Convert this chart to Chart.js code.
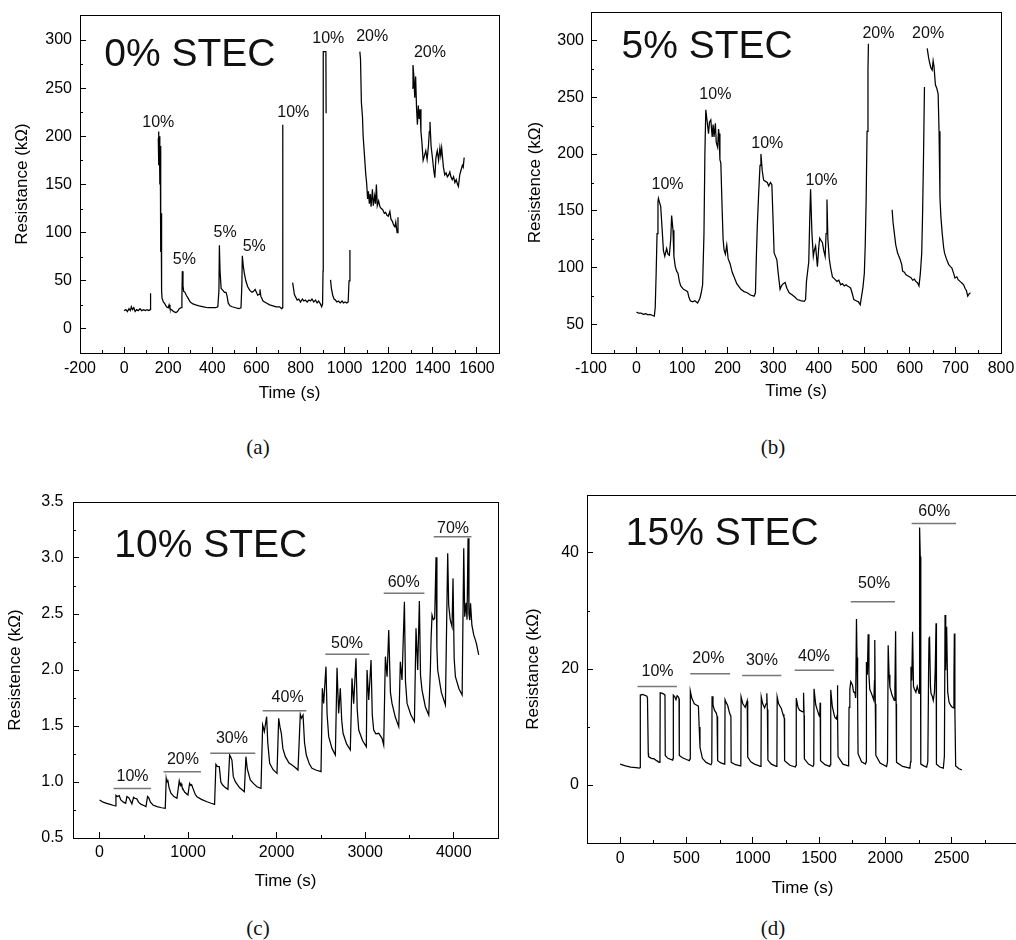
<!DOCTYPE html>
<html>
<head>
<meta charset="utf-8">
<script src="https://cdn.jsdelivr.net/npm/chart.js@4.4.1/dist/chart.umd.min.js"></script>
<style>
  body { margin: 0; width: 1016px; height: 940px; overflow: hidden; background: #fff; position: relative; }
  canvas { position: absolute; }
  .cap { position: absolute; font-family: "Liberation Serif", "DejaVu Serif", serif; font-size: 21px; color: #111; transform: translate(-50%, -50%); }
</style>
</head>
<body>
<canvas id="chartA" width="508" height="420" style="left:0;top:0"></canvas>
<canvas id="chartB" width="508" height="420" style="left:508px;top:0"></canvas>
<canvas id="chartC" width="508" height="440" style="left:0;top:470px"></canvas>
<canvas id="chartD" width="520" height="440" style="left:508px;top:470px"></canvas>
<div class="cap" style="left:258px;top:447px">(a)</div>
<div class="cap" style="left:773px;top:447px">(b)</div>
<div class="cap" style="left:258px;top:928px">(c)</div>
<div class="cap" style="left:773px;top:928px">(d)</div>
<script>
// ---- (a) 0% STEC ----
const aTime = [0, 8, 15, 22, 28, 33, 38, 44, 50, 57, 64, 72, 80, 88, 96, 104, 112, 118, 120, 130,
  155, 156, 158, 160, 162, 164, 166, 168, 170, 172, 178, 185, 192, 200, 204, 208, 215, 225, 235, 242,
  250, 258, 262, 264, 267, 270, 276, 282, 290, 300, 312, 325, 340, 360, 380, 400, 415, 425, 430, 432,
  435, 440, 448, 455, 462, 467, 472, 480, 490, 505, 520, 530, 534, 536, 540, 545, 552, 560, 570, 580,
  587, 594, 600, 606, 612, 616, 620, 630, 645, 660, 675, 690, 705, 715, 718, 719, 720, 740,
  764, 767, 772, 778, 785, 792, 800, 808, 815, 822, 830, 838, 845, 852, 860, 868, 875, 882, 890, 896,
  900, 902, 903, 915, 916, 925,
  936, 940, 946, 952, 958, 965, 972, 980, 988, 995, 1002, 1010, 1016, 1020, 1024, 1040,
  1069, 1072, 1076, 1081, 1084, 1090, 1096, 1100, 1104, 1108, 1112, 1116, 1120, 1126, 1130, 1136, 1140, 1144, 1148, 1154,
  1160, 1166, 1172, 1180, 1186, 1192, 1198, 1205, 1210, 1216, 1222, 1228, 1232, 1238, 1242, 1270,
  1306, 1310, 1314, 1318, 1322, 1326, 1330, 1334, 1338, 1342, 1346, 1350, 1356, 1362, 1368, 1374, 1380, 1384, 1387, 1392,
  1398, 1404, 1409, 1414, 1420, 1426, 1432, 1436, 1440, 1444, 1448, 1454, 1460, 1466, 1472, 1477, 1482, 1488, 1494, 1500,
  1506, 1512, 1516, 1522, 1528, 1534, 1538, 1542];
const aRes = [19, 20, 18, 21, 19, 23, 20, 22, 18, 20, 19, 21, 19, 20, 19, 20, 19, 20, 37, null,
  198, 205, 170, 200, 150, 190, 80, 120, 40, 32, 28, 26, 23, 22, 25, 21, 20, 18, 17, 18,
  21, 22, 30, 60, 45, 39, 38, 35, 32, 28, 26, 25, 24, 23, 22, 22, 22, 23, 40, 87,
  60, 42, 40, 38, 38, 34, 27, 24, 23, 22, 21, 22, 45, 76, 66, 58, 50, 44, 40, 38,
  39, 41, 38, 35, 36, 41, 34, 29, 27, 25, 24, 23, 23, 21, 22, 130, 212, null,
  48, 44, 36, 33, 30, 31, 28, 31, 29, 30, 28, 30, 29, 31, 28, 30, 27, 29, 26, 23,
  26, 60, 288, 288, 224, null,
  51, 42, 35, 31, 30, 28, 29, 27, 29, 27, 28, 27, 28, 50, 82, null,
  288, 280, 235, 220, 200, 180, 160, 151, 135, 143, 130, 140, 127, 145, 128, 138, 130, 150, 128, 133,
  127, 125, 124, 120, 121, 118, 117, 122, 114, 112, 108, 106, 111, 100, 116, null,
  250, 274, 262, 240, 262, 230, 212, 232, 218, 228, 205, 195, 175, 180, 185, 176, 190, 205, 215, 190,
  178, 165, 157, 178, 185, 175, 188, 180, 188, 178, 168, 160, 162, 158, 160, 163, 158, 155, 158, 152,
  155, 150, 148, 160, 165, 170, 168, 178];
const aXTicks = [-200, 0, 200, 400, 600, 800, 1000, 1200, 1400, 1600];
const aXLabels = ['-200', '0', '200', '400', '600', '800', '1000', '1200', '1400', '1600'];
const aXMinor = [-100, 100, 300, 500, 700, 900, 1100, 1300, 1500];
const aYTicks = [0, 50, 100, 150, 200, 250, 300];
const aYLabels = ['0', '50', '100', '150', '200', '250', '300'];
const aYMinor = [25, 75, 125, 175, 225, 275];
const aNoteText = ['10%', '5%', '5%', '5%', '10%', '10%', '20%', '20%'];
const aNoteT = [155, 273, 458, 590, 767, 926, 1125, 1387];
const aNoteR = [214, 72, 100, 86, 225, 302, 303.5, 287];

// ---- (b) 5% STEC ----
const bTime = [0, 5, 10, 15, 20, 25, 30, 35, 39, 41, 43, 45, 47, 48, 50, 53, 56, 59, 62, 66,
  69, 72, 75, 77, 80, 82, 85, 88, 91, 94, 97, 103, 108, 112, 115, 118, 123, 128, 134, 139,
  142, 145, 148, 150, 152, 154, 156, 158, 160, 163, 166, 168, 170, 173, 175, 178, 180, 181, 183, 185,
  188, 190, 192, 195, 198, 201, 205, 210, 214, 220, 229, 236, 243, 250, 258, 261, 263, 265, 268, 271,
  273, 276, 279, 283, 287, 290, 294, 297, 299, 302, 305, 308, 311, 315, 318, 322, 326, 330, 335, 342,
  348, 353, 360, 368, 371, 373, 375, 378, 380, 382, 385, 388, 390, 393, 397, 400, 402, 405, 408, 411,
  414, 416, 418, 420, 423, 426, 430, 435, 440, 444, 448, 452, 456, 460, 463, 467, 470, 473, 477, 482,
  487, 491, 494, 497, 500, 502, 504, 506, 508, 509, 530,
  561, 563, 566, 569, 573, 578, 582, 584, 588, 591, 595, 599, 603, 606, 610, 613, 617, 620, 623, 626,
  628, 630, 632, 635, 638, 641, 643, 646, 649, 651, 653, 656, 659, 662, 664, 666, 668, 671, 674, 676,
  680, 685, 689, 692, 696, 699, 703, 706, 710, 714, 718, 721, 724, 727, 730, 733];
const bRes = [61, 60, 60, 59, 59.5, 58.5, 59, 58, 57.5, 65, 95, 130, 158, 161, 158, 154, 135, 115, 110, 117,
  112, 111, 125, 146, 133, 110, 101, 97, 95, 88, 84, 81, 80, 79, 74, 71, 70, 71, 69, 73,
  78, 85, 130, 200, 239, 232, 225, 218, 228, 230, 215, 226, 215, 227, 210, 206, 222, 218, 195, 192,
  150, 125, 116, 112, 120, 108, 104, 96, 92, 86, 81, 79, 78, 76, 75, 78, 110, 136, 165, 190,
  200, 185, 177, 176, 175, 172, 175, 173, 150, 113, 110, 107, 95, 81, 84, 86, 87, 82, 78, 76,
  74, 72, 71, 70.5, 72, 88, 95, 105, 140, 169, 130, 110, 115, 119, 101, 118, 126, 124, 122, 115,
  110, 130, 160, 125, 108, 100, 92, 90, 88, 89, 85, 86, 84, 85, 84, 83, 82, 78, 72, 71,
  70, 67.5, 75, 83, 95, 120, 160, 220, 275, 297, null,
  151, 140, 130, 120, 113, 108, 103, 97, 96, 94, 93, 92, 91, 89, 90, 88, 86.6, 84, 95, 113,
  150, 200, 259, null, 293, 285, 281, 276, 274, 282, 277, 261, 258, 253, 220, 162, 145, 130, 118, 113,
  108, 103, 101, 100, 95, 91, 92, 89.5, 88, 86.6, 85, 82, 80, 75, 77, 78];
const bXTicks = [-100, 0, 100, 200, 300, 400, 500, 600, 700, 800];
const bXLabels = ['-100', '0', '100', '200', '300', '400', '500', '600', '700', '800'];
const bXMinor = [-50, 50, 150, 250, 350, 450, 550, 650, 750];
const bYTicks = [50, 100, 150, 200, 250, 300];
const bYLabels = ['50', '100', '150', '200', '250', '300'];
const bYMinor = [75, 125, 175, 225, 275];
const bNoteText = ['10%', '10%', '10%', '10%', '20%', '20%'];
const bNoteT = [68, 173, 287, 406, 531, 640];
const bNoteR = [173, 252, 209, 177, 306, 306];

// ---- (c) 10% STEC ----
const cTime = [0, 40, 80, 120, 160, 180, 185, 200, 222, 240, 270, 295, 309, 330, 350, 365, 384, 400, 420, 440,
  470, 500, 524, 542, 555, 575, 603, 650, 700, 742, 753, 760, 772, 785, 806, 840, 874, 900, 912, 920,
  930, 960, 998, 1017, 1030, 1040, 1055, 1080, 1100, 1150, 1213, 1260, 1299, 1314, 1330, 1352, 1370, 1390, 1420, 1450,
  1469, 1482, 1495, 1510, 1533, 1580, 1635, 1653, 1668, 1702, 1740, 1778, 1823, 1842, 1852, 1861, 1887, 1900, 1921, 1960,
  2004, 2023, 2040, 2053, 2070, 2098, 2140, 2173, 2210, 2241, 2267, 2280, 2298, 2315, 2335, 2370, 2399, 2450, 2501, 2516,
  2531, 2557, 2570, 2588, 2625, 2663, 2682, 2700, 2719, 2735, 2750, 2790, 2832, 2851, 2870, 2896, 2910, 2927, 2970, 3013,
  3021, 3040, 3066, 3080, 3096, 3120, 3153, 3190, 3209, 3228, 3247, 3266, 3285, 3303, 3340, 3379, 3397, 3416, 3443, 3455,
  3473, 3515, 3556, 3574, 3593, 3612, 3625, 3642, 3680, 3718, 3736, 3745, 3755, 3770, 3785, 3800, 3810, 3819, 3860, 3906,
  3932, 3943, 3960, 3981, 3992, 4005, 4019, 4060, 4095, 4113, 4124, 4140, 4150, 4162, 4172, 4181, 4190, 4205, 4226, 4256,
  4282];
const cRes = [0.84, 0.82, 0.81, 0.80, 0.79, 0.786, 0.88, 0.87, 0.878, 0.84, 0.82, 0.81, 0.87, 0.86, 0.83, 0.805, 0.863, 0.855, 0.85, 0.82,
  0.80, 0.79, 0.78, 0.87, 0.86, 0.82, 0.795, 0.78, 0.77, 0.765, 1.03, 1.0, 1.01, 0.95, 0.90, 0.87, 0.854, 1.01, 0.97, 0.985,
  0.958, 0.91, 0.884, 0.988, 0.97, 0.975, 0.943, 0.89, 0.869, 0.845, 0.824, 0.81, 0.80, 1.158, 1.14, 1.137, 1.0, 0.973, 0.95, 0.934,
  1.241, 1.22, 1.196, 1.05, 1.003, 0.95, 0.914, 1.226, 1.12, 1.018, 0.985, 0.958, 0.943, 1.509, 1.48, 1.45, 1.583, 1.35, 1.167, 1.11,
  1.077, 1.568, 1.48, 1.435, 1.30, 1.226, 1.17, 1.152, 1.13, 1.107, 1.604, 1.57, 1.598, 1.35, 1.241, 1.16, 1.122, 1.105, 1.092, 1.836,
  1.702, 2.03, 1.60, 1.405, 1.30, 1.241, 2.02, 1.613, 1.836, 1.55, 1.435, 1.34, 1.286, 1.926, 1.70, 2.104, 1.65, 1.464, 1.37, 1.315,
  2.0, 1.732, 2.089, 1.60, 1.464, 1.43, 1.435, 1.39, 1.33, 2.119, 1.94, 2.357, 1.80, 1.702, 1.58, 1.494, 2.074, 1.911, 2.61, 1.90,
  1.702, 1.60, 1.539, 2.372, 2.0, 2.616, 1.95, 1.821, 1.67, 1.598, 2.0, 2.3, 2.49, 2.45, 2.46, 3.006, 2.2, 2.0, 1.80, 1.688,
  3.042, 2.58, 2.45, 2.387, 2.818, 2.1, 1.94, 1.83, 1.777, 3.086, 2.476, 2.6, 2.45, 3.176, 2.5, 2.446, 2.595, 2.4, 2.313, 2.238,
  2.134];
const cXTicks = [0, 1000, 2000, 3000, 4000];
const cXLabels = ['0', '1000', '2000', '3000', '4000'];
const cXMinor = [500, 1500, 2500, 3500];
const cYTicks = [0.5, 1.0, 1.5, 2.0, 2.5, 3.0, 3.5];
const cYLabels = ['0.5', '1.0', '1.5', '2.0', '2.5', '3.0', '3.5'];
const cYMinor = [0.75, 1.25, 1.75, 2.25, 2.75, 3.25];
const cNoteText = ['10%', '20%', '30%', '40%', '50%', '60%', '70%'];
const cNoteT = [373, 942, 1495, 2124, 2795, 3435, 3992];
const cNoteR = [1.048, 1.202, 1.39, 1.753, 2.238, 2.783, 3.265];
const cBarFrom = [158, 723, 1250, 1842, 2550, 3209, 3774];
const cBarTo = [580, 1145, 1759, 2335, 3047, 3669, 4200];
const cBarR = [0.943, 1.092, 1.256, 1.637, 2.14, 2.685, 3.19];

// ---- (d) 15% STEC ----
const dTime = [0, 40, 80, 120, 144, 150, 152, 170, 202, 206, 212, 214, 235, 257, 275, 295, 300, 302, 320, 333,
  338, 340, 360, 396, 399, 401, 412, 421, 430, 438, 444, 446, 470, 500, 522, 527, 529, 540, 559, 575,
  590, 596, 602, 620, 648, 685, 691, 693, 700, 711, 725, 731, 734, 736, 760, 786, 789, 791, 800, 811,
  825, 832, 835, 837, 870, 907, 910, 912, 925, 943, 958, 961, 963, 985, 1013, 1058, 1062, 1064, 1075, 1089,
  1100, 1106, 1110, 1114, 1140, 1177, 1182, 1184, 1195, 1215, 1228, 1235, 1238, 1240, 1280, 1321, 1326, 1328, 1340, 1353,
  1370, 1379, 1382, 1384, 1387, 1389, 1420, 1454, 1460, 1462, 1475, 1487, 1500, 1505, 1508, 1510, 1512, 1545, 1580, 1585,
  1588, 1600, 1618, 1631, 1636, 1638, 1641, 1643, 1680, 1719, 1723, 1726, 1732, 1739, 1752, 1760, 1769, 1776, 1782, 1786,
  1789, 1792, 1794, 1820, 1850, 1854, 1857, 1864, 1870, 1876, 1882, 1895, 1913, 1918, 1920, 1924, 1928, 1960, 2009, 2016,
  2021, 2028, 2034, 2050, 2067, 2072, 2077, 2081, 2084, 2130, 2185, 2190, 2193, 2199, 2205, 2212, 2218, 2230, 2240, 2248,
  2254, 2258, 2263, 2266, 2268, 2290, 2311, 2320, 2326, 2329, 2333, 2340, 2344, 2355, 2361, 2370, 2376, 2382, 2384, 2386,
  2410, 2437, 2445, 2450, 2455, 2462, 2470, 2480, 2490, 2500, 2513, 2517, 2520, 2524, 2530, 2555, 2576];
const dRes = [3.6, 3.3, 3.1, 3.0, 2.9, 3.0, 15.5, 15.6, 15.3, 15.0, 5.5, 4.9, 4.6, 4.5, 4.2, 3.9, 4.0, 15.9, 15.8, 15.6,
  15.4, 5.1, 4.6, 4.3, 4.6, 15.5, 15.2, 14.7, 15.4, 15.2, 14.9, 5.1, 4.7, 4.4, 4.2, 4.5, 16.2, 15.0, 14.0, 13.8,
  13.6, 10, 6.5, 4.6, 3.9, 3.5, 3.8, 15.3, 13.8, 12.9, 12.4, 11.8, 11.5, 4.2, 3.8, 3.6, 3.9, 14.7, 14.2, 13.7,
  12.4, 12.0, 11.8, 3.9, 3.5, 3.3, 3.6, 15.2, 14.0, 13.4, 14.5, 14.3, 4.8, 4.0, 3.6, 3.2, 3.5, 15.2, 14.0, 13.3,
  14.0, 15.8, 13.0, 4.3, 3.6, 3.2, 3.5, 15.2, 14.0, 13.2, 12.2, 11.7, 11.5, 4.2, 3.4, 3.1, 3.4, 15.0, 13.5, 12.9,
  12.7, 12.6, 13.0, 15.9, 12.0, 4.5, 3.6, 3.2, 3.5, 16.6, 13.8, 12.9, 12.0, 11.8, 14.2, 12, 4.2, 3.5, 3.2, 3.5,
  16.4, 13.5, 11.7, 11.4, 12, 17.2, 12, 4.9, 3.6, 3.3, 4, 13.4, 16.5, 17.8, 17.2, 16.0, 16.0, 15.0, 28.6, 22,
  19.8, 15, 5.4, 4.0, 3.6, 4, 21.2, 19, 26.0, 19, 16.5, 15.8, 14.6, 18, 25.0, 14, 5.1, 3.8, 3.2, 4,
  24.1, 19, 16.9, 15.5, 14.6, 17, 26.5, 14, 3.9, 3.2, 2.9, 4, 20.4, 18, 26.4, 17, 16.6, 16.0, 17.0, 16.3,
  15.8, 44.4, 39.4, 15, 3.6, 3.3, 3.1, 4, 20, 25.3, 25.6, 17, 15.8, 15.2, 14.6, 16, 20, 27.9, 15, 3.6,
  3.1, 2.9, 5, 29.3, 19.8, 27.3, 16, 14.3, 13.8, 13.5, 13.3, 18, 26.1, 13, 3.3, 2.8, 2.6];
const dXTicks = [0, 500, 1000, 1500, 2000, 2500];
const dXLabels = ['0', '500', '1000', '1500', '2000', '2500'];
const dXMinor = [250, 750, 1250, 1750, 2250, 2750];
const dYTicks = [0, 20, 40];
const dYLabels = ['0', '20', '40'];
const dYMinor = [10, 30];
const dNoteText = ['10%', '20%', '30%', '40%', '50%', '60%'];
const dNoteT = [282, 665, 1069, 1462, 1915, 2369];
const dNoteR = [19.6, 21.8, 21.5, 22.1, 34.7, 47.2];
const dBarFrom = [131, 529, 920, 1316, 1739, 2198];
const dBarTo = [428, 829, 1215, 1613, 2072, 2533];
const dBarR = [17.0, 19.2, 18.9, 19.8, 31.6, 45.1];

const FONT = '"Liberation Sans", Arial, sans-serif';

function toPoints(ts, rs) {
  return ts.map((t, i) => ({ x: t, y: rs[i] }));
}

// frame, minor ticks, text labels and bars, all placed with the chart's scales
function panelPlugin(p) {
  return {
    id: 'panel',
    afterDraw(chart) {
      const ctx = chart.ctx;
      const sx = chart.scales.x, sy = chart.scales.y;
      const { left, right, top, bottom } = chart.chartArea;
      ctx.save();
      ctx.strokeStyle = '#000';
      ctx.lineWidth = 1;
      ctx.strokeRect(Math.round(left) + 0.5, Math.round(top) + 0.5,
        Math.round(right) - Math.round(left), Math.round(bottom) - Math.round(top));
      ctx.beginPath();
      p.xMinor.forEach(v => {
        const px = Math.round(sx.getPixelForValue(v)) + 0.5;
        ctx.moveTo(px, Math.round(bottom));
        ctx.lineTo(px, Math.round(bottom) - 3);
      });
      p.yMinor.forEach(v => {
        const py = Math.round(sy.getPixelForValue(v)) + 0.5;
        ctx.moveTo(Math.round(left), py);
        ctx.lineTo(Math.round(left) + 3, py);
      });
      ctx.stroke();
      // bars over the concentration labels
      if (p.barFrom) {
        ctx.strokeStyle = '#777';
        ctx.lineWidth = 1.5;
        ctx.beginPath();
        p.barFrom.forEach((t, i) => {
          const py = sy.getPixelForValue(p.barR[i]);
          ctx.moveTo(sx.getPixelForValue(t), py);
          ctx.lineTo(sx.getPixelForValue(p.barTo[i]), py);
        });
        ctx.stroke();
      }
      ctx.fillStyle = '#111';
      ctx.textBaseline = 'middle';
      ctx.textAlign = 'center';
      ctx.font = '16px ' + FONT;
      p.noteText.forEach((s, i) => {
        ctx.fillText(s, sx.getPixelForValue(p.noteT[i]), sy.getPixelForValue(p.noteR[i]));
      });
      ctx.textAlign = 'left';
      ctx.font = '39px ' + FONT;
      ctx.fillText(p.big[0], sx.getPixelForValue(p.big[1]), sy.getPixelForValue(p.big[2]));
      ctx.restore();
    }
  };
}

function makeChart(id, p) {
  return new Chart(document.getElementById(id), {
    type: 'line',
    data: {
      datasets: [{
        data: toPoints(p.time, p.res),
        borderColor: '#000',
        borderWidth: 1.25,
        pointRadius: 0,
        tension: 0,
        spanGaps: false,
        fill: false
      }]
    },
    options: {
      responsive: false,
      animation: false,
      devicePixelRatio: 1,
      layout: { padding: { left: 0, top: p.top, right: p.right, bottom: 0 } },
      plugins: { legend: { display: false }, tooltip: { enabled: false } },
      scales: {
        x: {
          type: 'linear', min: p.xMin, max: p.xMax,
          afterBuildTicks: s => { s.ticks = p.xTicks.map(v => ({ value: v })); },
          afterFit: s => { s.height = p.xh; s.paddingLeft = 0; s.paddingRight = 0; },
          ticks: { callback: (v, i) => p.xLabels[i], color: '#000', font: { family: FONT, size: 16 }, padding: p.xtp, autoSkip: false, maxRotation: 0 },
          grid: { drawOnChartArea: false, drawTicks: true, tickLength: -6, color: '#000' },
          border: { display: true, color: '#000', width: 1 },
          title: { display: true, text: 'Time (s)', color: '#000', font: { family: FONT, size: 17 }, padding: { top: 0, bottom: p.xTitlePad } }
        },
        y: {
          type: 'linear', min: p.yMin, max: p.yMax,
          afterBuildTicks: s => { s.ticks = p.yTicks.map(v => ({ value: v })); },
          afterFit: s => { s.width = p.yw; s.paddingTop = 0; s.paddingBottom = 0; },
          ticks: { callback: (v, i) => p.yLabels[i], color: '#000', font: { family: FONT, size: 16 }, padding: p.ytp, autoSkip: false },
          grid: { drawOnChartArea: false, drawTicks: true, tickLength: -6, color: '#000' },
          border: { display: true, color: '#000', width: 1 },
          title: { display: true, text: p.yTitle, color: '#000', font: { family: FONT, size: 17 }, padding: { top: p.yTitlePad, bottom: 0 } }
        }
      }
    },
    plugins: [panelPlugin(p)]
  });
}

makeChart('chartA', {
  time: aTime, res: aRes, xMin: -200, xMax: 1700, yMin: -25, yMax: 326,
  xTicks: aXTicks, xLabels: aXLabels, xMinor: aXMinor, yTicks: aYTicks, yLabels: aYLabels, yMinor: aYMinor,
  yTitle: 'Resistance (kΩ)', top: 15, right: 9, yw: 80, xh: 67, xtp: 11.7, ytp: 14, xTitlePad: 16.5, yTitlePad: 12.5,
  noteText: aNoteText, noteT: aNoteT, noteR: aNoteR, big: ['0% STEC', -90, 284.5]
});

makeChart('chartB', {
  time: bTime, res: bRes, xMin: -100, xMax: 800, yMin: 25, yMax: 325,
  xTicks: bXTicks, xLabels: bXLabels, xMinor: bXMinor, yTicks: bYTicks, yLabels: bYLabels, yMinor: bYMinor,
  yTitle: 'Resistence (kΩ)', top: 12, right: 15, yw: 83, xh: 67, xtp: 12, ytp: 13, xTitlePad: 18, yTitlePad: 17.5,
  noteText: bNoteText, noteT: bNoteT, noteR: bNoteR, big: ['5% STEC', -33, 294]
});

makeChart('chartC', {
  time: cTime, res: cRes, xMin: -300, xMax: 4500, yMin: 0.5, yMax: 3.5,
  xTicks: cXTicks, xLabels: cXLabels, xMinor: cXMinor, yTicks: cYTicks, yLabels: cYLabels, yMinor: cYMinor,
  yTitle: 'Resistence (kΩ)', top: 32, right: 10, yw: 73, xh: 72, xtp: 11.4, ytp: 15.5, xTitlePad: 18.8, yTitlePad: 4.8,
  noteText: cNoteText, noteT: cNoteT, noteR: cNoteR, barFrom: cBarFrom, barTo: cBarTo, barR: cBarR,
  big: ['10% STEC', 166, 3.101]
});

makeChart('chartD', {
  time: dTime, res: dRes, xMin: -250, xMax: 3000, yMin: -10, yMax: 50,
  xTicks: dXTicks, xLabels: dXLabels, xMinor: dXMinor, yTicks: dYTicks, yLabels: dYLabels, yMinor: dYMinor,
  yTitle: 'Resistance (kΩ)', top: 25, right: 10, yw: 79, xh: 67, xtp: 12, ytp: 14, xTitlePad: 11.5, yTitlePad: 14.8,
  noteText: dNoteText, noteT: dNoteT, noteR: dNoteR, barFrom: dBarFrom, barTo: dBarTo, barR: dBarR,
  big: ['15% STEC', 43, 43.2]
});
</script>
</body>
</html>
